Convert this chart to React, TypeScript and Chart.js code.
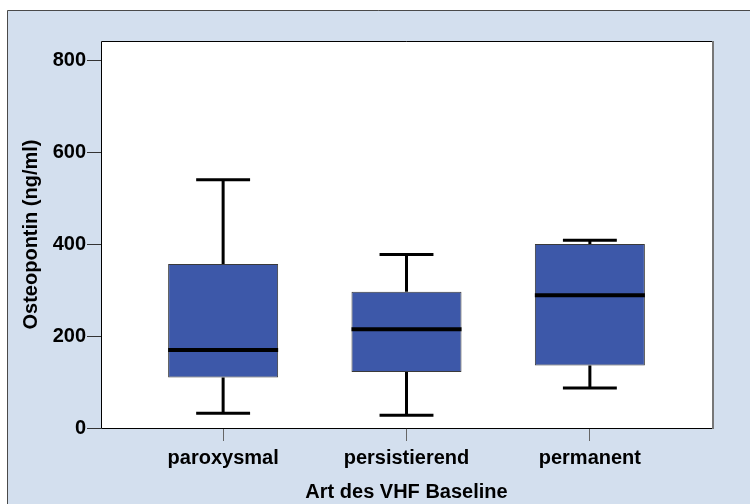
import React, { useEffect, useRef } from "react";
import { Chart, registerables } from "chart.js";

Chart.register(...registerables);

const categories = ["paroxysmal", "persistierend", "permanent"];
const whiskerMin = [32, 28, 87];
const q1 = [110, 122, 136];
const median = [170, 215, 289];
const q3 = [357, 297, 401];
const whiskerMax = [541, 378, 409];
const yTicks = [0, 200, 400, 600, 800];

const FONT = "'Liberation Sans', Arial, sans-serif";

const boxPlugin = {
  id: "boxExtras",
  beforeDraw(chart: any) {
    const { ctx, width, height, chartArea } = chart;
    ctx.save();
    ctx.fillStyle = "#ffffff";
    ctx.fillRect(0, 0, width, height);
    ctx.fillStyle = "#d3dfee";
    ctx.fillRect(7, 10, width - 7, height - 10);
    ctx.strokeStyle = "#4a4a4a";
    ctx.lineWidth = 1;
    ctx.beginPath();
    ctx.moveTo(7.5, height);
    ctx.lineTo(7.5, 10.5);
    ctx.lineTo(width, 10.5);
    ctx.stroke();
    ctx.fillStyle = "#ffffff";
    ctx.fillRect(chartArea.left, chartArea.top, chartArea.right - chartArea.left, chartArea.bottom - chartArea.top);
    ctx.restore();
  },
  afterDatasetsDraw(chart: any) {
    const { ctx } = chart;
    const xs = chart.scales.x;
    const ys = chart.scales.y;
    const meta = chart.getDatasetMeta(0);
    ctx.save();
    ctx.strokeStyle = "#000000";
    categories.forEach((_, i) => {
      const cx = xs.getPixelForValue(i + 1);
      const bw = meta.data[i].width;
      const capHalf = bw * 0.245;
      const yMin = ys.getPixelForValue(whiskerMin[i]);
      const yQ1 = ys.getPixelForValue(q1[i]);
      const yQ3 = ys.getPixelForValue(q3[i]);
      const yMax = ys.getPixelForValue(whiskerMax[i]);
      const yMed = ys.getPixelForValue(median[i]);
      ctx.lineWidth = 3;
      ctx.beginPath();
      ctx.moveTo(cx, yQ3);
      ctx.lineTo(cx, yMax);
      ctx.moveTo(cx, yQ1);
      ctx.lineTo(cx, yMin);
      ctx.stroke();
      ctx.beginPath();
      ctx.moveTo(cx - capHalf, yMax);
      ctx.lineTo(cx + capHalf, yMax);
      ctx.moveTo(cx - capHalf, yMin);
      ctx.lineTo(cx + capHalf, yMin);
      ctx.stroke();
      ctx.lineWidth = 4;
      ctx.beginPath();
      ctx.moveTo(cx - bw / 2, yMed);
      ctx.lineTo(cx + bw / 2, yMed);
      ctx.stroke();
    });
    ctx.restore();
  },
  afterDraw(chart: any) {
    const { ctx, chartArea } = chart;
    const { left, right, top, bottom } = chartArea;
    ctx.save();
    ctx.strokeStyle = "#000000";
    ctx.lineWidth = 1;
    ctx.beginPath();
    ctx.moveTo(right, top + 0.5);
    ctx.lineTo(left + 0.5, top + 0.5);
    ctx.lineTo(left + 0.5, bottom + 0.5);
    ctx.lineTo(right, bottom + 0.5);
    ctx.stroke();
    ctx.strokeStyle = "#777777";
    ctx.lineWidth = 2;
    ctx.beginPath();
    ctx.moveTo(right + 1, top);
    ctx.lineTo(right + 1, bottom + 1);
    ctx.stroke();
    ctx.restore();
  },
};

export default function App() {
  const ref = useRef<HTMLCanvasElement>(null);
  useEffect(() => {
    document.body.style.margin = "0";
    const canvas = ref.current;
    if (!canvas) return;
    const chart = new Chart(canvas, {
      type: "bar",
      data: {
        datasets: [
          {
            data: categories.map((_, i) => ({ x: i + 1, y: [q1[i], q3[i]] })) as any,
            backgroundColor: "#3d58a9",
            borderColor: "#3a3a3a",
            borderWidth: 1,
            borderSkipped: false,
            categoryPercentage: 1,
            barPercentage: 0.6,
          },
        ],
      },
      options: {
        responsive: false,
        animation: false,
        events: [],
        layout: { padding: { left: 0, top: 41, right: 38, bottom: 0 } },
        plugins: { legend: { display: false }, tooltip: { enabled: false } },
        scales: {
          x: {
            type: "linear",
            min: 0.334,
            max: 3.666,
            offset: false,
            afterBuildTicks: (scale: any) => {
              scale.ticks = categories.map((_, i) => ({ value: i + 1 }));
            },
            afterFit: (scale: any) => {
              scale.height = 76;
            },
            grid: { offset: false, drawOnChartArea: false, drawTicks: true, tickLength: 13, color: "#666666" },
            border: { display: false },
            ticks: {
              color: "#000000",
              padding: 5,
              maxRotation: 0,
              autoSkip: false,
              font: { family: FONT, size: 20, weight: "bold" },
              callback: (v: any) => categories[Math.round(v) - 1] ?? "",
            },
            title: {
              display: true,
              text: "Art des VHF Baseline",
              color: "#000000",
              padding: { top: 0, bottom: 0 },
              font: { family: FONT, size: 20, weight: "bold" },
            },
          },
          y: {
            type: "linear",
            min: 0,
            max: 843,
            afterBuildTicks: (scale: any) => {
              scale.ticks = yTicks.map((v) => ({ value: v }));
            },
            afterFit: (scale: any) => {
              scale.width = 101;
            },
            grid: { drawOnChartArea: false, drawTicks: true, tickLength: 14, color: "#333333" },
            border: { display: false },
            ticks: {
              color: "#000000",
              padding: 1,
              font: { family: FONT, size: 20, weight: "bold" },
            },
            title: {
              display: true,
              text: "Osteopontin (ng/ml)",
              color: "#000000",
              padding: { top: 19, bottom: 0 },
              font: { family: FONT, size: 20, weight: "bold" },
            },
          },
        },
      },
      plugins: [boxPlugin],
    });
    return () => chart.destroy();
  }, []);
  return (
    <div style={{ width: 750, height: 504 }}>
      <canvas ref={ref} width={750} height={504} style={{ display: "block" }} />
    </div>
  );
}
